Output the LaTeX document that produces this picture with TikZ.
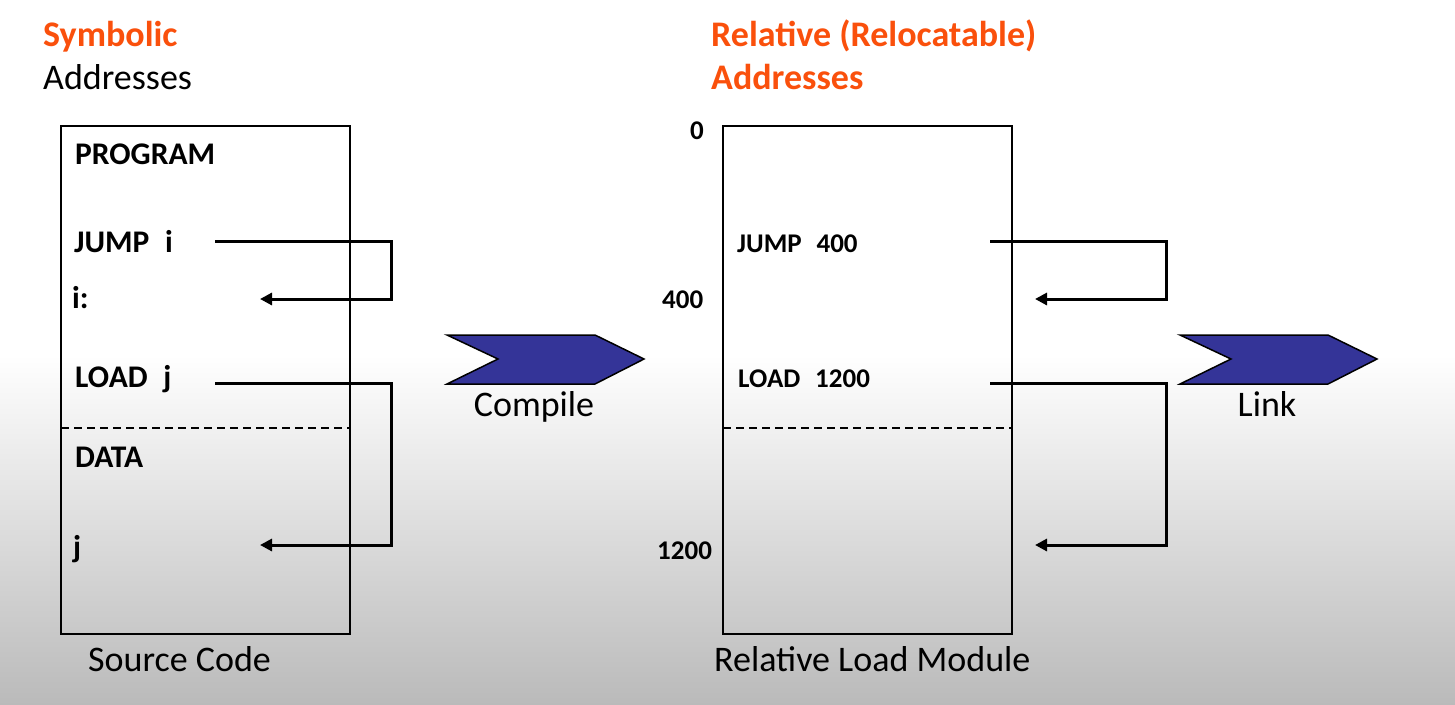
\documentclass[tikz,border=0pt]{standalone}
\usepackage{fontspec}
\setmainfont{Carlito}
\usetikzlibrary{arrows.meta,positioning,calc}
\definecolor{titleorange}{RGB}{250,80,12}
\definecolor{chevblue}{RGB}{52,52,152}
\tikzset{x=1pt, y=-1pt, % One unit per pixel, y runs downwards
        heading/.style={ % Orange titles above the boxes
            anchor=base west, inner sep=0pt,
            font=\fontsize{36}{41}\selectfont\bfseries, text=titleorange},
        caption/.style={ % Plain captions
            anchor=base west, inner sep=0pt,
            font=\fontsize{36}{41}\selectfont},
        code/.style={ % Lines of the source program
            anchor=base west, inner sep=0pt,
            font=\fontsize{31.5}{36}\selectfont\bfseries},
        reloc/.style={ % Lines and addresses of the load module
            anchor=base west, inner sep=0pt,
            font=\fontsize{27}{32}\selectfont\bfseries},
        memory/.style={ % The two module boxes
            draw, line width=1.8pt, anchor=north west, inner sep=0pt,
            outer sep=0pt, minimum width=289pt, minimum height=508pt},
        conn/.style={ % References from an instruction to its target
            draw, line width=3pt,
            -{Triangle[length=12pt,width=12pt]}},
        split/.style={ % Border between program and data
            draw, line width=1.4pt, dash pattern=on 8pt off 5pt},
        chevron/.style={ % The step arrows
            draw, fill=chevblue, line width=1.5pt, line join=miter}
        }

\begin{document}
\begin{tikzpicture}
    \useasboundingbox (0,0) rectangle (1455,704);
    % backdrop
    \fill[white] (0,0) rectangle (1455,355);
    \shade[top color=white, bottom color=black!27] (0,355) rectangle (1455,704);

    % titles
    \node[heading] (symb)  at (43,46)  {Symbolic};
    \node[caption] (symbA) at (43,89)  {Addresses};
    \node[heading] (rel)   at (711,46) {Relative (Relocatable)};
    \node[heading] (relA)  at (711,89) {Addresses};

    % source code box
    \node[memory] (src) at (61,126) {};
    \node[code] (prog)  at (75,164)  {PROGRAM};
    \node[code] (jmpi)  at (74,252)  {JUMP\hspace{0.5em}i};
    \node[code] (labi)  at (72,308)  {i:};
    \node[code] (ldj)   at (75,387)  {LOAD\hspace{0.5em}j};
    \node[code] (data)  at (75,467)  {DATA};
    \node[code] (labj)  at (73,557)  {j};
    \draw[split] (src.west |- 0,428) -- (src.east |- 0,428);
    \node[caption] (srcC) at (88,671) {Source Code};

    \coordinate (jmpS) at (215,241);
    \coordinate (iT)   at (260,299);
    \coordinate (ldS)  at (215,383);
    \coordinate (jT)   at (260,545);
    \draw[conn] (jmpS) -- ++(176,0) |- (iT);
    \draw[conn] (ldS) -- ++(176,0) |- (jT);

    % relative load module box
    \node[memory] (mod) at (723,126) {};
    \node[reloc] (a0)    at (690,139) {0};
    \node[reloc] (a400)  at (662,308) {400};
    \node[reloc] (a1200) at (657,559) {1200};
    \node[reloc] (jmp4)  at (737,252) {JUMP\hspace{0.55em}400};
    \node[reloc] (ld12)  at (738,387) {LOAD\hspace{0.55em}1200};
    \draw[split] (mod.west |- 0,428) -- (mod.east |- 0,428);
    \node[caption] (modC) at (714,671) {Relative Load Module};

    \coordinate (jmp4S) at (990,241);
    \coordinate (t400)  at (1035,299);
    \coordinate (ld12S) at (990,383);
    \coordinate (t1200) at (1035,545);
    \draw[conn] (jmp4S) -- ++(176,0) |- (t400);
    \draw[conn] (ld12S) -- ++(176,0) |- (t1200);

    % step arrows
    \foreach \cx/\step in {447/Compile, 1180/Link} {
        \draw[chevron] (\cx,335) -- ++(148,0) -- ++(49,24) -- ++(-49,25)
            -- ++(-148,0) -- ++(51,-25) -- cycle;
        \node[caption, anchor=base] (\step) at (\cx+87,416) {\step};
    }
\end{tikzpicture}
\end{document}
